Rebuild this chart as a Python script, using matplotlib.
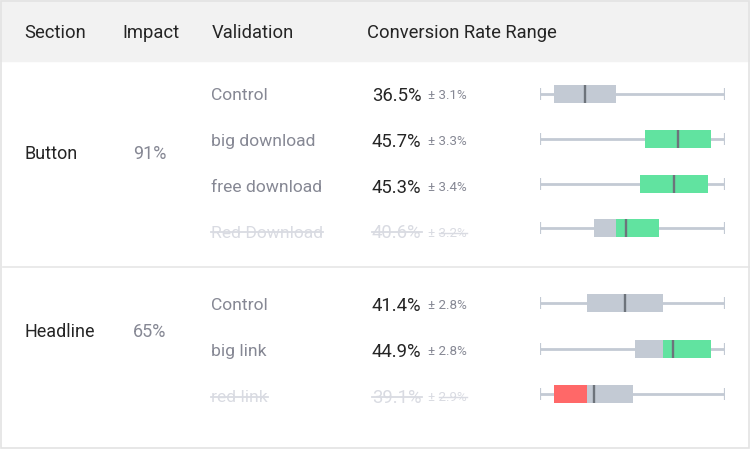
import matplotlib
matplotlib.use("Agg")
import matplotlib.pyplot as plt

plt.rcParams['font.family'] = ['Roboto', 'DejaVu Sans']

# ---------------- data ----------------
headers = ["Section", "Impact", "Validation", "Conversion Rate Range"]
sections = ["Button", "Headline"]
impacts = ["91%", "65%"]
button_variants = ["Control", "big download", "free download", "Red Download"]
button_rates = [36.5, 45.7, 45.3, 40.6]
button_errors = [3.1, 3.3, 3.4, 3.2]
button_struck = [False, False, False, True]
headline_variants = ["Control", "big link", "red link"]
headline_rates = [41.4, 44.9, 39.1]
headline_errors = [2.8, 2.8, 2.9]
headline_struck = [False, False, True]

groups = [
    (button_variants, button_rates, button_errors, button_struck),
    (headline_variants, headline_rates, headline_errors, headline_struck),
]

# ---------------- style ----------------
W, H = 750, 449
DARK = "#252525"
GREY = "#868894"
FAINT = "#d9dbe2"
BOX_GREY = "#c3cad4"
GREEN = "#61e3a0"
RED = "#ff6868"
MEDIAN = "#6d737b"
WHISKER = "#c3cad4"

fig = plt.figure(figsize=(W / 100, H / 100), dpi=100)
base = fig.add_axes([0, 0, 1, 1])
base.set_xlim(0, W)
base.set_ylim(H, 0)
base.axis("off")

# header band
base.add_patch(plt.Rectangle((0, 0), W, 61, color="#f2f2f2", zorder=0))
# outer border
base.add_patch(plt.Rectangle((0.5, 0.5), W - 1.5, H - 1.5, fill=False,
                             edgecolor="#e3e3e3", lw=1.2, zorder=5))
# group separator
base.plot([3, W - 1], [267, 267], color="#e6e6e6", lw=1.2, zorder=1)

CAP = 0.711  # Roboto cap height / em


def put(x, yc, s, size, color):
    """Place text so its cap-height centre sits at yc (pixel rows)."""
    px = size * 100 / 72
    return base.text(x, yc + CAP * px / 2, s, fontsize=size, color=color,
                     va="baseline", ha="left")


header_x = [24, 122, 212, 367]
for hx, txt in zip(header_x, headers):
    put(hx, 31, txt, 13.2, DARK)

text_y = [[94, 140, 186, 231.5], [304, 350, 396]]
box_y = [[94, 139.3, 183.5, 228], [303, 349, 394.3]]
section_y = [152.7, 330.7]
group_top = [62, 268]
group_bot = [267, 447]

fig.canvas.draw()
renderer = fig.canvas.get_renderer()
inv = base.transData.inverted()


def strike(t, y, color, skip=0, lw=1.3):
    bb = t.get_window_extent(renderer)
    (x0, _), (x1, _) = inv.transform([[bb.x0, bb.y0], [bb.x1, bb.y1]])
    base.plot([x0 + skip, x1], [y + 0.5, y + 0.5], color=color, lw=lw, zorder=4)


for gi, (names, rates, errs, struck) in enumerate(groups):
    put(25, section_y[gi], sections[gi], 13, DARK)
    put(133, section_y[gi], impacts[gi], 13, GREY)
    for ri, (nm, r, e, s) in enumerate(zip(names, rates, errs, struck)):
        y = text_y[gi][ri]
        c1 = FAINT if s else GREY
        c2 = FAINT if s else DARK
        c3 = FAINT if s else GREY
        t1 = put(211, y, nm, 12.6, c1)
        t2 = put(372, y, f"{r:.1f}%", 13.3, c2)
        t3 = put(428, y + 0.5, f"± {e:.1f}%", 9.6, c3)
        if s:
            fig.canvas.draw()
            strike(t1, y, FAINT)
            strike(t2, y, FAINT)
            strike(t3, y + 0.5, FAINT, skip=11, lw=1.0)

    # ---- range plot axes for the group ----
    lows = [r - e for r, e in zip(rates, errs)]
    highs = [r + e for r, e in zip(rates, errs)]
    lo, hi = min(lows), max(highs)
    pad = 0.092 * (hi - lo)
    xmin, xmax = lo - pad, hi + pad
    top, bot = group_top[gi], group_bot[gi]
    ax = fig.add_axes([540 / W, 1 - bot / H, 185 / W, (bot - top) / H])
    ax.set_xlim(xmin, xmax)
    ax.set_ylim(bot, top)
    ax.axis("off")
    ctrl_lo, ctrl_hi = lows[0], highs[0]
    for ri in range(len(rates)):
        y = box_y[gi][ri]
        ax.hlines(y, xmin, xmax, color=WHISKER, lw=2.0, zorder=1)
        ax.vlines([xmin, xmax], y - 6, y + 6, color=WHISKER, lw=1.6, zorder=1)
        l, h = lows[ri], highs[ri]
        ax.barh(y, h - l, left=l, height=18, color=BOX_GREY, zorder=2)
        if ri > 0:
            if h > ctrl_hi:
                gl = max(l, ctrl_hi)
                ax.barh(y, h - gl, left=gl, height=18, color=GREEN, zorder=3)
            if l < ctrl_lo:
                rh = min(h, ctrl_lo)
                ax.barh(y, rh - l, left=l, height=18, color=RED, zorder=3)
        ax.vlines(rates[ri], y - 9, y + 9, color=MEDIAN, lw=1.7, zorder=4)

fig.savefig("out.png", dpi=100)
